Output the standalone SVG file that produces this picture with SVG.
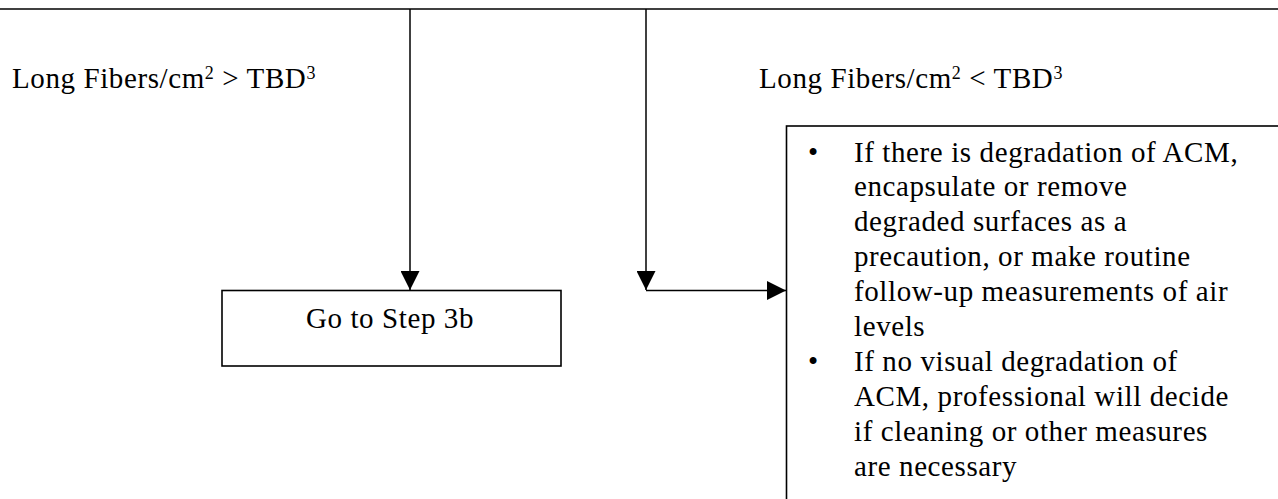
<svg xmlns="http://www.w3.org/2000/svg" width="1278" height="499" viewBox="0 0 1278 499">
<style>
  .t { font-family: "Liberation Serif", "Times New Roman", serif; font-size: 29px; letter-spacing: 0.6px; fill: #000; }
  .ln { stroke: #000; stroke-width: 1.5; fill: none; }
  .box { stroke: #000; stroke-width: 1.6; fill: #fff; }
</style>
<defs>
  <marker id="arr" viewBox="0 0 20 20" refX="20" refY="10" markerWidth="19" markerHeight="19" markerUnits="userSpaceOnUse" orient="auto">
    <path d="M0,0 L20,10 L0,20 z" fill="#000"/>
  </marker>
</defs>
<rect width="1278" height="499" fill="#fff"/>

<g id="connectors">
  <line class="ln" x1="0" y1="9" x2="1278" y2="9"/>
  <path class="ln" d="M410,9 V290" marker-end="url(#arr)"/>
  <path class="ln" d="M646,9 V290" marker-end="url(#arr)"/>
  <path class="ln" d="M646,290.5 H786" marker-end="url(#arr)"/>
</g>

<g id="label-left">
  <text class="t" x="12" y="88">Long Fibers/cm<tspan font-size="18" dy="-9">2</tspan><tspan dy="9"> &gt; TBD</tspan><tspan font-size="18" dy="-9">3</tspan></text>
</g>

<g id="label-right">
  <text class="t" x="759" y="88">Long Fibers/cm<tspan font-size="18" dy="-9">2</tspan><tspan dy="9"> &lt; TBD</tspan><tspan font-size="18" dy="-9">3</tspan></text>
</g>

<g id="node-step3b">
  <rect class="box" x="222" y="290.5" width="339" height="75.5"/>
  <text class="t" x="390" y="327.5" text-anchor="middle">Go to Step 3b</text>
</g>

<g id="node-actions">
  <rect class="box" x="786.5" y="126" width="520" height="400"/>
  <text class="t" x="808" y="161.5">•</text>
  <text class="t" x="808" y="370.9">•</text>
  <text class="t" x="854" y="161.5">If there is degradation of ACM,</text>
  <text class="t" x="854" y="196.4">encapsulate or remove</text>
  <text class="t" x="854" y="231.3">degraded surfaces as a</text>
  <text class="t" x="854" y="266.2">precaution, or make routine</text>
  <text class="t" x="854" y="301.1">follow-up measurements of air</text>
  <text class="t" x="854" y="336">levels</text>
  <text class="t" x="854" y="370.9">If no visual degradation of</text>
  <text class="t" x="854" y="405.8">ACM, professional will decide</text>
  <text class="t" x="854" y="440.7">if cleaning or other measures</text>
  <text class="t" x="854" y="475.6">are necessary</text>
</g>
</svg>
